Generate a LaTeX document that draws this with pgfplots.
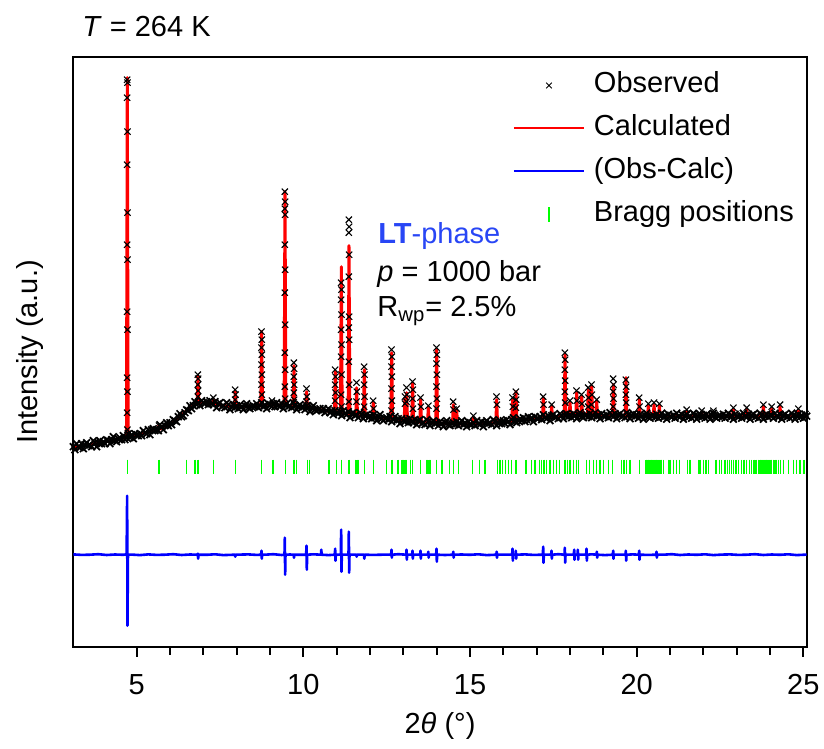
\documentclass[border=0pt]{standalone}
\usepackage{fontspec}
\setmainfont{Liberation Sans}
\usepackage{pgfplots}
\pgfplotsset{compat=1.18}
\newcommand\fs{\fontsize{14.5}{17.4}\selectfont}
\definecolor{ltblue}{RGB}{40,70,245}
\definecolor{bragg}{RGB}{0,255,0}
\begin{document}
\begin{tikzpicture}
\useasboundingbox (-36.65pt,-51.15pt) rectangle (375.35pt,323.35pt);
\begin{axis}[
  scale only axis, width=366.7pt, height=294.6pt,
  xmin=3.1, xmax=25.1, ymin=0, ymax=589.2,
  axis line style={line width=1pt},
  xtick={5,10,15,20,25}, minor x tick num=4,
  xtick pos=bottom, tick align=outside,
  ytick=\empty,
  major tick length=5pt, minor tick length=4pt,
  every tick/.style={black, line width=1pt},
  tick label style={font=\fs},
  xticklabel style={anchor=base, yshift=-19pt},
  /pgf/number format/assume math mode=true,
  legend style={draw=none, fill=none, at={(rel axis cs:0.5995,0.9754)}, anchor=north west,
    inner sep=0pt, outer sep=0pt, row sep=8pt, column sep=4.5pt, font=\fs,
    nodes={inner sep=0pt, text height=10.5pt, text depth=3pt}},
  legend cell align=left,
]
% Observed (background region)
\addplot[only marks, mark=x, mark size=2.4pt, mark options={line width=0.85pt}, black,
  legend image code/.code={\path[draw=none,fill=none] (0pt,0pt) -- (35pt,0pt); \draw[black, mark=x, mark size=2pt, mark options={line width=0.5pt}, only marks] plot coordinates {(17.5pt,0pt)};}]
coordinates {
(3.10,200)(3.15,197)(3.20,203)(3.25,200)(3.30,199)(3.35,203)(3.40,198)(3.45,202)(3.50,204)
(3.55,201)(3.60,202)(3.65,200)(3.70,206)(3.75,204)(3.80,200)(3.85,204)(3.90,206)(3.95,203)(4.00,205)
(4.05,203)(4.10,207)(4.15,206)(4.20,203)(4.25,207)(4.30,210)(4.35,206)(4.40,205)(4.45,208)(4.50,209)
(4.55,207)(4.60,211)(4.65,207)(4.70,209)(4.75,213)(4.80,209)(4.85,212)(4.90,208)(4.95,213)(5.00,212)
(5.05,211)(5.10,213)(5.15,211)(5.20,216)(5.25,214)(5.30,213)(5.35,217)(5.40,212)(5.45,217)(5.50,218)
(5.55,216)(5.60,217)(5.65,216)(5.70,222)(5.75,220)(5.80,217)(5.85,221)(5.90,224)(5.95,221)(6.00,224)
(6.05,222)(6.10,227)(6.15,226)(6.20,225)(6.25,230)(6.30,233)(6.35,230)(6.40,231)(6.45,234)(6.50,237)
(6.55,236)(6.60,241)(6.65,238)(6.70,241)(6.75,245)(6.80,242)(6.85,244)(6.90,241)(6.95,246)(7.00,244)
(7.05,243)(7.10,245)(7.15,242)(7.20,246)(7.25,243)(7.30,242)(7.35,245)(7.40,239)(7.45,243)(7.50,244)
(7.55,240)(7.60,241)(7.65,239)(7.70,244)(7.75,242)(7.80,237)(7.85,240)(7.90,242)(7.95,239)(8.00,241)
(8.05,238)(8.10,242)(8.15,240)(8.20,237)(8.25,241)(8.30,243)(8.35,239)(8.40,238)(8.45,240)(8.50,241)
(8.55,240)(8.60,243)(8.65,239)(8.70,241)(8.75,244)(8.80,240)(8.85,242)(8.90,238)(8.95,243)(9.00,242)
(9.05,240)(9.10,243)(9.15,240)(9.20,244)(9.25,241)(9.30,240)(9.35,243)(9.40,238)(9.45,242)(9.50,243)
(9.55,240)(9.60,241)(9.65,239)(9.70,244)(9.75,241)(9.80,237)(9.85,240)(9.90,242)(9.95,239)(10.00,240)
(10.05,237)(10.10,241)(10.15,239)(10.20,235)(10.25,239)(10.30,241)(10.35,237)(10.40,236)(10.45,237)(10.50,238)
(10.55,236)(10.60,238)(10.65,234)(10.70,236)(10.75,238)(10.80,234)(10.85,236)(10.90,232)(10.95,236)(11.00,234)
(11.05,233)(11.10,235)(11.15,231)(11.20,236)(11.25,233)(11.30,232)(11.35,235)(11.40,229)(11.45,233)(11.50,234)
(11.55,231)(11.60,232)(11.65,229)(11.70,234)(11.75,232)(11.80,228)(11.85,231)(11.90,232)(11.95,229)(12.00,231)
(12.05,228)(12.10,232)(12.15,229)(12.20,226)(12.25,230)(12.30,232)(12.35,228)(12.40,226)(12.45,228)(12.50,229)
(12.55,227)(12.60,230)(12.65,225)(12.70,227)(12.75,230)(12.80,226)(12.85,228)(12.90,223)(12.95,228)(13.00,226)
(13.05,225)(13.10,227)(13.15,224)(13.20,228)(13.25,225)(13.30,224)(13.35,227)(13.40,222)(13.45,226)(13.50,227)
(13.55,223)(13.60,224)(13.65,222)(13.70,227)(13.75,225)(13.80,221)(13.85,224)(13.90,226)(13.95,223)(14.00,224)
(14.05,221)(14.10,225)(14.15,223)(14.20,220)(14.25,224)(14.30,226)(14.35,222)(14.40,221)(14.45,223)(14.50,224)
(14.55,222)(14.60,225)(14.65,221)(14.70,223)(14.75,226)(14.80,222)(14.85,224)(14.90,220)(14.95,225)(15.00,222)
(15.05,222)(15.10,224)(15.15,221)(15.20,226)(15.25,223)(15.30,222)(15.35,225)(15.40,220)(15.45,224)(15.50,226)
(15.55,223)(15.60,224)(15.65,222)(15.70,227)(15.75,225)(15.80,221)(15.85,224)(15.90,226)(15.95,223)(16.00,226)
(16.05,223)(16.10,227)(16.15,225)(16.20,222)(16.25,227)(16.30,229)(16.35,225)(16.40,224)(16.45,226)(16.50,228)
(16.55,226)(16.60,229)(16.65,225)(16.70,227)(16.75,230)(16.80,227)(16.85,229)(16.90,225)(16.95,230)(17.00,228)
(17.05,228)(17.10,230)(17.15,227)(17.20,232)(17.25,229)(17.30,228)(17.35,231)(17.40,226)(17.45,231)(17.50,232)
(17.55,229)(17.60,230)(17.65,228)(17.70,233)(17.75,231)(17.80,228)(17.85,231)(17.90,233)(17.95,230)(18.00,232)
(18.05,229)(18.10,233)(18.15,231)(18.20,228)(18.25,232)(18.30,234)(18.35,230)(18.40,229)(18.45,231)(18.50,232)
(18.55,230)(18.60,233)(18.65,229)(18.70,231)(18.75,234)(18.80,230)(18.85,232)(18.90,228)(18.95,233)(19.00,231)
(19.05,230)(19.10,232)(19.15,229)(19.20,234)(19.25,231)(19.30,230)(19.35,233)(19.40,228)(19.45,232)(19.50,233)
(19.55,230)(19.60,231)(19.65,229)(19.70,234)(19.75,232)(19.80,228)(19.85,231)(19.90,233)(19.95,230)(20.00,232)
(20.05,228.5)(20.10,232.5)(20.15,230.5)(20.20,227.5)(20.25,231.5)(20.30,233.5)(20.35,229.5)(20.40,228.5)(20.45,230.5)(20.50,231.5)
(20.55,229.5)(20.60,232.5)(20.65,228.5)(20.70,230.5)(20.75,233.5)(20.80,229.5)(20.85,231.5)(20.90,227.5)(20.95,232.5)(21.00,230.5)
(21.05,229.5)(21.10,231.5)(21.15,228.5)(21.20,233.5)(21.25,230.5)(21.30,229.5)(21.35,232.5)(21.40,227.5)(21.45,231.5)(21.50,232.5)
(21.55,229.5)(21.60,230.5)(21.65,228.5)(21.70,233.5)(21.75,231.5)(21.80,227.5)(21.85,230.5)(21.90,232.5)(21.95,229.5)(22.00,231.5)
(22.05,228.5)(22.10,232.5)(22.15,230.5)(22.20,227.5)(22.25,231.5)(22.30,233.5)(22.35,229.5)(22.40,228.5)(22.45,230.5)(22.50,231.5)
(22.55,229.5)(22.60,232.5)(22.65,228.5)(22.70,230.5)(22.75,233.5)(22.80,229.5)(22.85,231.5)(22.90,227.5)(22.95,232.5)(23.00,230.5)
(23.05,229.5)(23.10,231.5)(23.15,228.5)(23.20,233.5)(23.25,230.5)(23.30,229.5)(23.35,232.5)(23.40,227.5)(23.45,231.5)(23.50,232.5)
(23.55,229.5)(23.60,230.5)(23.65,228.5)(23.70,233.5)(23.75,231.5)(23.80,227.5)(23.85,230.5)(23.90,232.5)(23.95,229.5)(24.00,231.5)
(24.05,231.5)(24.10,228.5)(24.15,233.5)(24.20,230.5)(24.25,229.5)(24.30,232.5)(24.35,227.5)(24.40,231.5)(24.45,232.5)(24.50,229.5)
(24.55,230.5)(24.60,228.5)(24.65,233.5)(24.70,231.5)(24.75,227.5)(24.80,230.5)(24.85,232.5)(24.90,229.5)(24.95,231.5)(25.00,228.5)
(25.05,232.5)(25.10,230.5)
};
\addlegendentry{Observed}
% Calculated
\addplot[red, line width=1.5pt, line join=round,
  legend image code/.code={\draw[red, line width=1pt] (0pt,0pt) -- (35pt,0pt);}]
coordinates {
(3.1,199)(3.5,201.5)(4.0,204.5)(4.5,208)(4.695,209.4)(4.72,569)(4.745,209.7)(5.0,211.5)(5.5,216)
(5.645,217.3)(5.67,221)(5.695,217.7)(6.0,223)(6.1,225.3)(6.2,227.7)(6.3,230)(6.4,233)(6.5,236)(6.6,238.8)(6.7,241.5)
(6.815,243)(6.84,271)(6.865,243.5)(6.9,244)(7.0,243.8)(7.2,243.5)(7.275,243.1)(7.30,247)(7.325,242.8)(7.6,241)
(7.935,240.2)(7.96,255)(7.985,240)(8.5,240.5)(8.725,240.9)(8.75,315)(8.775,241)(9.035,241.5)(9.06,245)(9.085,241.5)
(9.425,241.5)(9.45,455)(9.475,241.5)(9.695,240.7)(9.72,281)(9.745,240.6)(10.075,239.2)(10.10,255)(10.125,239.1)(10.5,237)
(10.935,234.4)(10.96,275)(10.985,234.1)(11.115,233.8)(11.14,380)(11.165,233.6)(11.345,232.6)(11.37,401)(11.395,232.4)
(11.575,231.7)(11.60,259)(11.625,231.5)(11.805,230.8)(11.83,277)(11.855,230.6)(12.075,229.7)(12.10,244)(12.125,229.5)
(12.625,227.5)(12.65,294)(12.675,227.3)(13.025,226)(13.05,248)(13.075,225.8)(13.10,254)(13.125,225.6)
(13.255,225.2)(13.28,264)(13.305,225.1)(13.495,224.5)(13.52,247)(13.545,224.4)(13.725,224)(13.75,239)(13.775,224)
(13.975,223.5)(14.00,297)(14.025,223.5)(14.475,223)(14.50,242)(14.525,223)(14.575,223)(14.60,237)(14.625,223)
(15.075,222.6)(15.10,229)(15.125,222.7)(15.775,224)(15.80,247)(15.825,224)(16.255,225.5)(16.28,247)(16.305,225.6)
(16.355,225.7)(16.38,255)(16.405,225.9)(17.175,229)(17.20,249)(17.225,229.1)(17.425,229.6)(17.45,240)(17.475,229.7)
(17.825,230.6)(17.85,292)(17.875,230.7)(17.975,231)(18.00,244)(18.025,231)(18.175,231)(18.20,254)(18.225,231)
(18.325,231)(18.35,250)(18.375,231)(18.525,231)(18.55,257)(18.575,231)(18.625,231)(18.65,260)(18.675,231)
(18.775,231)(18.80,246)(18.825,231)(19.275,230.9)(19.30,262)(19.325,230.9)(19.655,230.7)(19.68,269)(19.705,230.7)
(20.055,230.5)(20.08,247)(20.105,230.5)(20.325,230.5)(20.35,241)(20.375,230.5)(20.495,230.5)(20.52,242)(20.545,230.5)
(20.655,230.5)(20.68,241)(20.705,230.5)(21.475,230.5)(21.50,235)(21.525,230.5)(21.925,230.5)(21.95,234)(21.975,230.5)
(22.275,230.5)(22.30,234)(22.325,230.5)(22.875,230.5)(22.90,237)(22.925,230.5)(23.275,230.5)(23.30,237)(23.325,230.5)
(23.775,230.5)(23.80,240)(23.825,230.5)(24.025,230.5)(24.05,238)(24.075,230.5)(24.275,230.5)(24.30,240)(24.325,230.5)
(24.825,230.5)(24.85,236)(24.875,230.5)(25.1,230.5)
};
\addlegendentry{Calculated}
% Observed points on the peaks
\addplot[only marks, mark=x, mark size=2.2pt, mark options={line width=0.55pt}, black, forget plot]
coordinates {
(4.715,567)(4.725,564)(4.715,549)(4.725,515)(4.715,482)(4.725,434)(4.715,402)(4.725,387)(4.715,335)(4.725,317)(4.715,269)(4.725,255)(4.715,234)(4.725,217)
(5.67,221)
(6.835,272)(6.845,268)(6.835,262)(6.845,256)(6.835,250)
(7.30,249)
(7.955,257)(7.965,252)(7.955,247)
(8.745,315)(8.755,307)(8.745,299)(8.755,292)(8.745,282)(8.755,272)(8.745,262)(8.755,252)
(9.06,246)
(9.445,455)(9.455,445)(9.445,438)(9.455,432)(9.445,402)(9.455,377)(9.445,354)(9.455,322)(9.445,294)(9.455,277)(9.445,260)(9.455,248)
(9.715,284)(9.725,278)(9.715,270)(9.725,262)(9.715,254)(9.725,247)
(10.095,258)(10.105,250)(10.095,245)
(10.955,277)(10.965,270)(10.955,262)(10.965,254)(10.955,246)
(11.135,364)(11.145,357)(11.135,347)(11.145,332)(11.135,317)(11.145,302)(11.135,290)(11.145,272)(11.135,252)(11.145,240)
(11.365,427)(11.375,420)(11.365,414)(11.375,392)(11.365,370)(11.375,330)(11.365,319)(11.375,307)(11.365,285)(11.375,262)(11.365,245)
(11.595,264)(11.605,255)(11.595,245)
(11.825,280)(11.835,272)(11.825,262)(11.835,250)(11.825,240)
(12.095,246)(12.105,238)
(12.645,297)(12.655,290)(12.645,280)(12.655,270)(12.645,258)(12.655,246)(12.645,236)
(13.05,250)(13.05,243)
(13.095,259)(13.105,252)(13.095,245)
(13.275,265)(13.285,257)(13.275,248)(13.285,238)
(13.515,249)(13.525,240)
(13.75,241)
(13.995,299)(14.005,292)(13.995,283)(14.005,272)(13.995,260)(14.005,248)(13.995,238)
(14.495,245)(14.505,237)
(14.60,238)
(15.10,231)
(15.795,250)(15.805,242)
(16.275,249)(16.285,240)
(16.375,255)(16.385,247)(16.375,239)
(17.195,250)(17.205,242)
(17.45,242)
(17.845,294)(17.855,287)(17.845,277)(17.855,266)(17.845,255)(17.855,244)
(18.00,246)
(18.195,256)(18.205,246)
(18.345,252)(18.355,243)
(18.545,259)(18.555,249)(18.545,240)
(18.645,262)(18.655,252)(18.645,242)
(18.80,247)
(19.295,268)(19.305,262)(19.295,255)(19.305,248)(19.295,240)
(19.675,267)(19.685,260)(19.675,252)(19.685,244)
(20.075,249)(20.085,240)
(20.35,243)(20.52,244)(20.68,243)
(21.50,237)(21.95,236)(22.30,236)(22.90,239)(23.30,239)(23.80,242)(24.05,240)(24.30,242)(24.85,238)
};
% Difference
\addplot[blue, line width=1.3pt, line join=round,
  legend image code/.code={\draw[blue, line width=1pt] (0pt,0pt) -- (35pt,0pt);}]
coordinates {
(3.10,92.3)(3.35,91.8)(3.60,92.0)(3.85,92.5)(4.10,91.7)(4.35,92.2)(4.60,91.9)(4.70,92.4)(4.715,151)(4.725,21)(4.74,92)
(4.85,92.1)(5.10,91.6)(5.35,92.3)(5.60,91.8)(5.85,92.0)(6.10,92.5)(6.35,91.7)(6.60,92.2)
(6.825,92)(6.835,93)(6.845,88)(6.855,92)(7.10,91.9)(7.35,92.4)(7.60,91.6)(7.95,92)(7.96,90)(7.97,92)
(8.10,92.1)(8.35,92.3)(8.60,91.8)(8.735,92)(8.745,96)(8.755,88)(8.765,92)(8.85,92.0)(9.10,92.5)(9.35,91.7)
(9.435,92)(9.445,109)(9.455,72)(9.465,92)(9.60,92.2)(9.71,92)(9.72,89)(9.73,92)(9.85,91.9)
(10.085,92)(10.095,101)(10.105,77)(10.115,92)(10.30,92.4)(10.53,92)(10.54,97)(10.55,92)(10.75,91.6)
(10.945,92)(10.955,98)(10.965,86)(10.975,92)(11.125,92)(11.135,117)(11.145,75)(11.155,92)
(11.355,92)(11.365,115)(11.375,74)(11.385,92)(11.59,92)(11.60,90)(11.61,92)(11.82,92)(11.83,88)(11.84,92)
(12.10,91.8)(12.35,92.0)(12.635,92)(12.645,97)(12.655,89)(12.665,92)(12.85,92.5)
(13.085,92)(13.095,97)(13.105,87)(13.115,92)(13.265,92)(13.275,96)(13.285,88)(13.295,92)
(13.505,92)(13.515,96)(13.525,88)(13.535,92)(13.74,92)(13.75,95)(13.76,89)(13.77,92)
(13.985,92)(13.995,98)(14.005,85)(14.015,92)(14.25,91.7)(14.49,92)(14.50,95)(14.51,89)(14.52,92)
(14.75,92.2)(15.00,91.9)(15.25,92.4)(15.50,91.6)(15.79,92)(15.80,95)(15.81,89)(15.82,92)(16.05,92.1)
(16.265,92)(16.275,98)(16.285,86)(16.295,92)(16.365,92)(16.375,96)(16.385,88)(16.395,92)(16.65,92.3)(16.90,91.8)
(17.185,92)(17.195,100)(17.205,84)(17.215,92)(17.435,92)(17.445,96)(17.455,88)(17.465,92)(17.65,92.5)
(17.835,92)(17.845,99)(17.855,84)(17.865,92)(18.115,92)(18.125,97)(18.135,87)(18.145,92)
(18.225,92)(18.235,97)(18.245,87)(18.255,92)(18.485,92)(18.495,98)(18.505,86)(18.515,92)(18.65,92.4)
(18.795,92)(18.805,95)(18.815,89)(18.825,92)(19.05,91.6)(19.285,92)(19.295,96)(19.305,88)(19.315,92)(19.50,92.1)
(19.665,92)(19.675,96)(19.685,86)(19.695,92)(19.88,92.3)(20.065,92)(20.075,96)(20.085,87)(20.095,92)(20.35,91.8)
(20.585,92)(20.595,95)(20.605,89)(20.615,92)(20.80,92.0)(21.05,92.5)(21.30,91.7)(21.55,92.2)(21.80,91.9)
(22.05,92.4)(22.30,91.6)(22.55,92.1)(22.80,92.3)(23.05,91.8)(23.30,92.0)(23.55,92.5)(23.80,91.7)
(24.05,92.2)(24.30,91.9)(24.55,92.4)(24.80,91.6)(25.10,92.1)
};
\addlegendentry{(Obs-Calc)}
% Bragg positions
\addplot[only marks, mark=|, mark size=3.5pt, mark options={line width=0.6pt}, bragg,
  legend image code/.code={\path[draw=none,fill=none] (0pt,-4pt) rectangle (35pt,4pt); \draw[bragg, line width=0.7pt] (17.5pt,-3.6pt) -- (17.5pt,3.6pt);}]
coordinates {
(4.72,180)(5.67,180)(6.50,180)(6.75,180)(6.84,180)(7.30,180)(7.96,180)(8.75,180)(9.09,180)(9.46,180)
(9.72,180)(9.79,180)(10.12,180)(10.18,180)(10.77,180)(10.99,180)(11.15,180)(11.37,180)(11.57,180)(11.61,180)
(11.65,180)(11.84,180)(12.11,180)(12.50,180)(12.66,180)(12.84,180)(12.96,180)(13.01,180)(13.05,180)(13.09,180)
(13.21,180)(13.27,180)(13.52,180)(13.69,180)(13.73,180)(13.77,180)(13.81,180)(13.99,180)(14.16,180)(14.38,180)
(14.50,180)(14.65,180)(15.08,180)(15.28,180)(15.45,180)(15.82,180)(15.90,180)(15.98,180)(16.06,180)(16.15,180)
(16.25,180)(16.38,180)(16.68,180)(16.85,180)(16.95,180)(17.08,180)(17.15,180)(17.22,180)(17.30,180)(17.40,180)
(17.50,180)(17.60,180)(17.68,180)(17.85,180)(17.92,180)(18.00,180)(18.10,180)(18.20,180)(18.25,180)(18.50,180)
(18.58,180)(18.70,180)(18.80,180)(18.90,180)(19.00,180)(19.15,180)(19.28,180)(19.55,180)(19.62,180)(19.70,180)
(19.80,180)(20.08,180)(20.28,180)(20.30,180)(20.32,180)(20.34,180)(20.36,180)(20.38,180)(20.40,180)(20.43,180)
(20.45,180)(20.48,180)(20.50,180)(20.53,180)(20.55,180)(20.58,180)(20.60,180)(20.63,180)(20.65,180)(20.68,180)
(20.70,180)(20.73,180)(20.75,180)(20.80,180)(20.95,180)(21.00,180)(21.10,180)(21.20,180)(21.28,180)(21.52,180)
(21.58,180)(21.62,180)(21.85,180)(21.90,180)(22.00,180)(22.08,180)(22.15,180)(22.38,180)(22.48,180)(22.55,180)
(22.65,180)(22.72,180)(22.78,180)(22.85,180)(22.90,180)(22.98,180)(23.05,180)(23.15,180)(23.22,180)(23.30,180)
(23.38,180)(23.45,180)(23.52,180)(23.58,180)(23.65,180)(23.70,180)(23.72,180)(23.74,180)(23.77,180)(23.79,180)
(23.82,180)(23.85,180)(23.88,180)(23.90,180)(23.93,180)(23.95,180)(23.98,180)(24.00,180)(24.03,180)(24.05,180)
(24.10,180)(24.15,180)(24.18,180)(24.25,180)(24.32,180)(24.40,180)(24.55,180)(24.70,180)(24.80,180)(24.90,180)
(25.02,180)
};
\addlegendentry{Bragg positions}
\end{axis}
\node[anchor=base west, inner sep=0pt, font=\fs] at (4.35pt,304.85pt) {\textit{T} = 264 K};
\node[anchor=base west, inner sep=0pt, font=\fs, text=ltblue] at (152.35pt,201.7pt) {\textbf{LT}-phase};
\node[anchor=base west, inner sep=0pt, font=\fs] at (151.85pt,182.5pt) {\textit{p} = 1000 bar};
\node[anchor=base west, inner sep=0pt, font=\fs] at (151.85pt,165pt) {R\textsubscript{wp}= 2.5\%};
\node[rotate=90, anchor=base, inner sep=0pt, font=\fs] at (-18.15pt,147.3pt) {Intensity (a.u.)};
\node[anchor=base, inner sep=0pt, font=\fs] at (183.35pt,-43.5pt) {2\textit{θ} (°)};
\end{tikzpicture}
\end{document}
